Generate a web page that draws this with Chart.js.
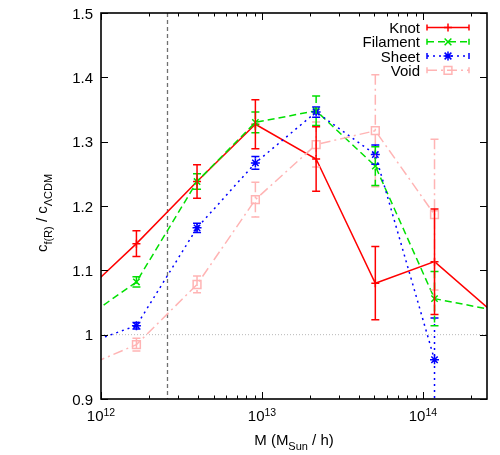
<!DOCTYPE html>
<html>
<head>
<meta charset="utf-8">
<script src="https://cdn.jsdelivr.net/npm/chart.js@4.4.1/dist/chart.umd.min.js"></script>
<style>
  html, body { margin: 0; padding: 0; background: #fff; }
  canvas { display: block; }
</style>
</head>
<body>
<canvas id="c" width="500" height="455"></canvas>
<script>
// halo mass bins (first and last lie just outside the plotted range)
const massBins = [7.06e11, 1.66e12, 3.95e12, 9.1e12, 2.17e13, 5.06e13, 1.18e14, 2.77e14];

const knot = [1.054, 1.1415, 1.238, 1.327, 1.273, 1.080, 1.1135, 1.033];
const knotErr = [null, 0.02, 0.026, 0.038, 0.05, 0.057, 0.082, null];
const filament = [1.0165, 1.082, 1.238, 1.330, 1.348, 1.262, 1.056, 1.038];
const filamentErr = [null, 0.008, 0.012, 0.016, 0.023, 0.03, 0.042, null];
const sheet = [0.981, 1.014, 1.166, 1.267, 1.346, 1.280, 0.961];
const sheetErr = [null, 0.005, 0.007, 0.01, 0.008, 0.015, 0.065];
const voidC = [0.945, 0.9845, 1.078, 1.210, 1.2955, 1.317, 1.1866];
const voidErr = [null, 0.01, 0.013, 0.027, 0.035, 0.087, 0.117];

const yTicks = [0.9, 1, 1.1, 1.2, 1.3, 1.4, 1.5];
const xDecades = [12, 13, 14];
const refMass = 2.57e12;   // vertical marker
const refRatio = 1;        // horizontal marker

const FONT = '"Liberation Sans", Arial, sans-serif';

function pts(vals) {
    return vals.map((v, i) => ({ x: massBins[i], y: v }));
}

function marker(ctx, style, x, y, r) {
    ctx.beginPath();
    if (style === 'cross') {
        ctx.moveTo(x - r, y); ctx.lineTo(x + r, y);
        ctx.moveTo(x, y - r); ctx.lineTo(x, y + r);
    } else if (style === 'crossRot') {
        const d = r * 0.75;
        ctx.moveTo(x - d, y - d); ctx.lineTo(x + d, y + d);
        ctx.moveTo(x - d, y + d); ctx.lineTo(x + d, y - d);
    } else if (style === 'star') {
        const d = r * 0.75;
        ctx.moveTo(x - r, y); ctx.lineTo(x + r, y);
        ctx.moveTo(x, y - r); ctx.lineTo(x, y + r);
        ctx.moveTo(x - d, y - d); ctx.lineTo(x + d, y + d);
        ctx.moveTo(x - d, y + d); ctx.lineTo(x + d, y - d);
    } else if (style === 'rect') {
        const s = r * Math.SQRT1_2;
        ctx.rect(x - s, y - s, 2 * s, 2 * s);
    }
    ctx.stroke();
}

// error bars, drawn through the scales
const errorBars = {
    id: 'errorBars',
    afterDatasetsDraw(chart) {
        const { ctx, chartArea: a, scales: { x, y } } = chart;
        ctx.save();
        ctx.beginPath();
        ctx.rect(a.left, a.top, a.right - a.left, a.bottom - a.top);
        ctx.clip();
        chart.data.datasets.slice().reverse().forEach(ds => {
            ds.errors.forEach((e, i) => {
                if (e == null) return;
                const px = x.getPixelForValue(ds.data[i].x);
                const top = y.getPixelForValue(ds.data[i].y + e);
                const bot = y.getPixelForValue(ds.data[i].y - e);
                ctx.strokeStyle = ds.borderColor;
                ctx.lineWidth = 1.5;
                ctx.setLineDash(ds.borderDash || []);
                ctx.beginPath();
                ctx.moveTo(px, top); ctx.lineTo(px, bot);
                ctx.stroke();
                ctx.setLineDash([]);
                ctx.beginPath();
                ctx.moveTo(px - 4, top); ctx.lineTo(px + 4, top);
                ctx.moveTo(px - 4, bot); ctx.lineTo(px + 4, bot);
                ctx.stroke();
            });
        });
        ctx.restore();
    }
};

const refLines = {
    id: 'refLines',
    beforeDatasetsDraw(chart) {
        const { ctx, chartArea: a, scales: { x, y } } = chart;
        ctx.save();
        const py = y.getPixelForValue(refRatio);
        ctx.strokeStyle = '#b8b8b8';
        ctx.lineWidth = 1;
        ctx.setLineDash([1, 2]);
        ctx.beginPath(); ctx.moveTo(a.left, py); ctx.lineTo(a.right, py); ctx.stroke();
        const px = Math.round(x.getPixelForValue(refMass)) + 0.5;
        ctx.strokeStyle = '#707070';
        ctx.lineWidth = 1.3;
        ctx.setLineDash([4, 3]);
        ctx.beginPath(); ctx.moveTo(px, a.top); ctx.lineTo(px, a.bottom); ctx.stroke();
        ctx.restore();
    }
};

function drawRich(ctx, parts, x, y, align) {
    // parts: [text, size, dy]
    let w = 0;
    parts.forEach(p => { ctx.font = p[1] + 'px ' + FONT; w += ctx.measureText(p[0]).width; });
    let cx = align === 'center' ? x - w / 2 : x;
    parts.forEach(p => {
        ctx.font = p[1] + 'px ' + FONT;
        ctx.fillText(p[0], cx, y + p[2]);
        cx += ctx.measureText(p[0]).width;
    });
}

const frame = {
    id: 'frame',
    afterDraw(chart) {
        const { ctx, chartArea: a, scales: { x, y } } = chart;
        ctx.save();
        ctx.strokeStyle = '#000';
        ctx.fillStyle = '#000';
        ctx.lineWidth = 1;
        ctx.setLineDash([]);

        // ticks, mirrored on all sides
        ctx.beginPath();
        yTicks.forEach(v => {
            const py = Math.round(y.getPixelForValue(v)) + 0.5;
            ctx.moveTo(a.left, py); ctx.lineTo(a.left + 7, py);
            ctx.moveTo(a.right, py); ctx.lineTo(a.right - 7, py);
        });
        for (let d = 12; d <= 14; d++) {
            for (let m = 1; m <= 9; m++) {
                const v = m * Math.pow(10, d);
                if (v < x.min || v > x.max) continue;
                const px = Math.round(x.getPixelForValue(v)) + 0.5;
                const len = m === 1 ? 7 : 3.5;
                ctx.moveTo(px, a.bottom); ctx.lineTo(px, a.bottom - len);
                ctx.moveTo(px, a.top); ctx.lineTo(px, a.top + len);
            }
        }
        ctx.stroke();

        ctx.lineWidth = 1.6;
        ctx.strokeRect(a.left, a.top, a.right - a.left, a.bottom - a.top);

        // y tick labels
        ctx.font = '15px ' + FONT;
        ctx.textAlign = 'right';
        ctx.textBaseline = 'alphabetic';
        yTicks.forEach(v => {
            const py = y.getPixelForValue(v);
            ctx.fillText(String(v), a.left - 8, py + 5.5);
        });

        // x tick labels 10^n
        ctx.textAlign = 'left';
        xDecades.forEach(d => {
            const px = x.getPixelForValue(Math.pow(10, d));
            drawRich(ctx, [['10', 15, 0], [String(d), 10.5, -5.5]], px, 421, 'center');
        });

        // axis titles
        drawRich(ctx, [['M (M', 15, 0], ['Sun', 11, 4.5], [' / h)', 15, 0]], (a.left + a.right) / 2, 445, 'center');
        ctx.save();
        ctx.translate(47, 213);
        ctx.rotate(-Math.PI / 2);
        drawRich(ctx, [['c', 15, 0], ['f(R)', 11, 4.5], [' / c', 15, 0], ['\u039BCDM', 11, 4.5]], 0, 0, 'center');
        ctx.restore();

        // key
        const rowY = [27.5, 41.8, 56, 70.3];
        ctx.textAlign = 'right';
        chart.data.datasets.forEach((ds, i) => {
            const ry = rowY[i];
            ctx.fillStyle = '#000';
            ctx.font = '15px ' + FONT;
            ctx.fillText(ds.label, 420, ry + 5.5);
            ctx.strokeStyle = ds.borderColor;
            ctx.lineWidth = 1.5;
            ctx.setLineDash(ds.borderDash || []);
            ctx.beginPath(); ctx.moveTo(427, ry); ctx.lineTo(469, ry); ctx.stroke();
            ctx.setLineDash([]);
            ctx.beginPath();
            ctx.moveTo(427, ry - 3); ctx.lineTo(427, ry + 3);
            ctx.moveTo(469, ry - 3); ctx.lineTo(469, ry + 3);
            ctx.stroke();
            marker(ctx, ds.pointStyle, 448, ry, ds.pointRadius);
        });
        ctx.restore();
    }
};

function series(label, vals, errs, color, dash, style, radius, order) {
    return {
        label: label,
        data: pts(vals),
        errors: errs,
        borderColor: color,
        backgroundColor: color,
        borderWidth: 1.5,
        borderDash: dash,
        showLine: true,
        tension: 0,
        pointStyle: style,
        pointRadius: radius,
        pointBorderWidth: 1.5,
        pointBorderColor: color,
        pointBackgroundColor: 'rgba(0,0,0,0)',
        order: order
    };
}

new Chart(document.getElementById('c'), {
    type: 'scatter',
    data: {
        datasets: [
            series('Knot', knot, knotErr, '#ff0000', [], 'cross', 4, 4),
            series('Filament', filament, filamentErr, '#00e000', [7, 4], 'crossRot', 4.5, 3),
            series('Sheet', sheet, sheetErr, '#0000ff', [2, 4], 'star', 4.5, 2),
            series('Void', voidC, voidErr, '#ffb4b4', [10, 4, 2, 4], 'rect', 5.5, 1)
        ]
    },
    options: {
        responsive: false,
        animation: false,
        layout: { padding: { left: 101, right: 13, top: 13, bottom: 56 } },
        plugins: { legend: { display: false }, tooltip: { enabled: false } },
        scales: {
            x: { type: 'logarithmic', min: 1e12, max: 2.5e14, display: false },
            y: { type: 'linear', min: 0.9, max: 1.5, display: false }
        }
    },
    plugins: [refLines, errorBars, frame]
});
</script>
</body>
</html>
